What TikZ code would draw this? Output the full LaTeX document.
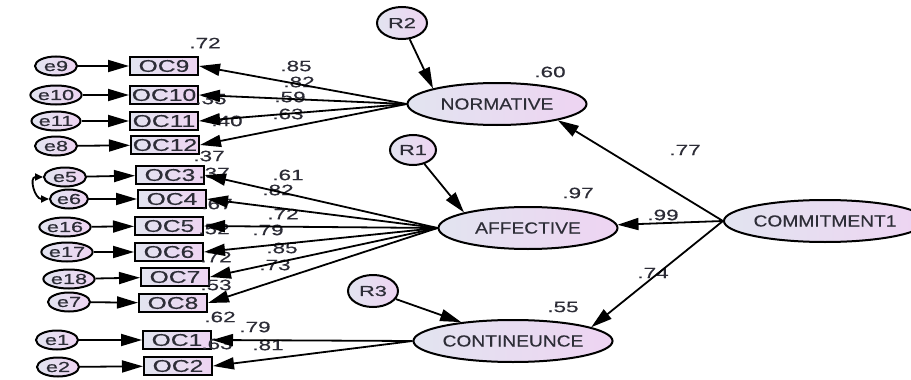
\documentclass[tikz,border=0pt]{standalone}
\usepackage{fontspec}
\usetikzlibrary{arrows.meta,shapes.geometric}
\newfontfamily\numfont[FakeStretch=1.5,FakeBold=0.4]{Liberation Sans}
\newfontfamily\boxfont[FakeStretch=1.45,FakeBold=0.4]{Liberation Sans}
\newfontfamily\latfont[FakeStretch=1.2,FakeBold=0.3]{Liberation Sans}
\definecolor{amosleft}{RGB}{226,228,240}
\definecolor{amosright}{RGB}{238,212,242}
\definecolor{amostext}{RGB}{45,45,55}

\begin{document}
\begin{tikzpicture}[x=1pt,y=1pt,
  obsbox/.style={draw,line width=2pt,left color=amosleft,right color=amosright,
    minimum width=68pt,minimum height=18pt,inner sep=0pt,text=amostext,
    font=\boxfont\fontsize{17}{17}\selectfont},
  errnode/.style={draw,ellipse,line width=2pt,left color=amosleft,right color=amosright,
    minimum width=42pt,minimum height=19pt,inner sep=0pt,text=amostext,
    font=\numfont\fontsize{14.5}{14.5}\selectfont},
  resnode/.style={errnode,minimum width=50pt,minimum height=32pt},
  latnode/.style={draw,ellipse,line width=2pt,left color=amosleft,right color=amosright,
    minimum width=179pt,minimum height=42pt,inner sep=0pt,text=amostext,
    font=\latfont\fontsize{16}{16}\selectfont},
  est/.style={inner sep=0pt,text=amostext,font=\numfont\fontsize{15}{15}\selectfont},
  arr/.style={line width=1.8pt,-{Triangle[length=21pt,width=12pt]}}]
\useasboundingbox (0,0) rectangle (911,-380);

% latent variables
\node [latnode] (nor) at (497,-104) {NORMATIVE};
\node [latnode] (aff) at (528,-228) {AFFECTIVE};
\node [latnode] (con) at (513,-341) {CONTINEUNCE};
\node [latnode,minimum width=170pt] (com) at (825,-221) {COMMITMENT1};
\node [resnode] (r2) at (402,-23) {R2};
\node [resnode,minimum width=46pt,minimum height=30pt] (r1) at (413,-150) {R1};
\node [resnode] (r3) at (373,-291) {R3};

% indicators and their errors
\foreach \name/\bx/\by in {
    oc9/164/-66, oc10/164/-95, oc11/164/-121, oc12/165/-145,
    oc3/170/-175, oc4/172/-199, oc5/169/-226, oc6/169/-252,
    oc7/175/-277, oc8/173/-303, oc1/177/-340, oc2/178/-366}
  \node [obsbox] (\name) at (\bx,\by) {\MakeUppercase{\name}};
\node [errnode] (e9) at (56,-66) {e9};
\node [errnode] (e10) at (56,-95) {e10};
\node [errnode] (e11) at (56,-121) {e11};
\node [errnode] (e8) at (56,-146) {e8};
\node [errnode] (e5) at (65,-177) {e5};
\node [errnode,minimum width=38pt] (e6) at (69,-199) {e6};
\node [errnode] (e16) at (65,-227) {e16};
\node [errnode] (e17) at (67,-252) {e17};
\node [errnode] (e18) at (69,-279) {e18};
\node [errnode] (e7) at (69,-302) {e7};
\node [errnode] (e1) at (57,-340) {e1};
\node [errnode] (e2) at (58,-367) {e2};

% squared multiple correlations
\node [est] (sm9) at (205,-43) {.72};
\node [est] (sm10) at (211,-99) {.35};
\node [est] (sm11) at (227,-121) {.40};
\node [est] (sm12) at (209,-156) {.37};
\node [est] (sm3) at (214,-173) {.37};
\node [est] (sm4) at (217,-204) {.67};
\node [est] (sm5) at (214,-229) {.52};
\node [est] (sm6) at (216,-257) {.72};
\node [est] (sm7) at (216,-285) {.53};
\node [est] (sm8) at (220,-317) {.62};
\node [est] (sm1) at (217,-344) {.63};
\node [est] (snor) at (550,-72) {.60};
\node [est] (saff) at (578,-193) {.97};
\node [est] (scon) at (563,-307) {.55};

% loadings
\node [est] (l9) at (296,-66) {.85};
\node [est] (l10) at (299,-82) {.82};
\node [est] (l11) at (290,-97) {.59};
\node [est] (l12) at (288,-114) {.63};
\node [est] (l3) at (288,-175) {.61};
\node [est] (l4) at (278,-190) {.82};
\node [est] (l5) at (283,-214) {.72};
\node [est] (l6) at (268,-230) {.79};
\node [est] (l7) at (282,-248) {.85};
\node [est] (l8) at (275,-265) {.73};
\node [est] (l1) at (255,-327) {.79};
\node [est] (l2) at (268,-345) {.81};
\node [est] (wnor) at (685,-150) {.77};
\node [est] (waff) at (663,-215) {.99};
\node [est] (wcon) at (653,-273) {.74};

% error paths
\foreach \e/\o in {e9/oc9,e10/oc10,e11/oc11,e8/oc12,e5/oc3,e6/oc4,
    e16/oc5,e17/oc6,e18/oc7,e7/oc8,e1/oc1,e2/oc2}
  \draw [arr] (\e) -- (\o);
\draw [line width=1.8pt,{Triangle[length=8pt,width=7pt]}-{Triangle[length=8pt,width=7pt]}]
  (e5.west) to [out=180,in=180,looseness=1.6] (e6.west);

% factor loadings
\foreach \o in {oc9,oc10,oc11,oc12}
  \draw [arr] (nor.west) -- (\o.east);
\foreach \o in {oc3,oc4,oc5,oc6,oc7,oc8}
  \draw [arr] (aff.west) -- (\o.east);
\foreach \o in {oc1,oc2}
  \draw [arr] (con.west) -- (\o.east);

% structural paths
\draw [arr] (r2) -- (nor.north west);
\draw [arr] (r1) -- (aff.north west);
\draw [arr] (r3) -- (con.160);
\draw [arr] (com.west) -- (nor.-15);
\draw [arr] (com.west) -- (aff);
\draw [arr] (com.west) -- (con.10);
\end{tikzpicture}
\end{document}
